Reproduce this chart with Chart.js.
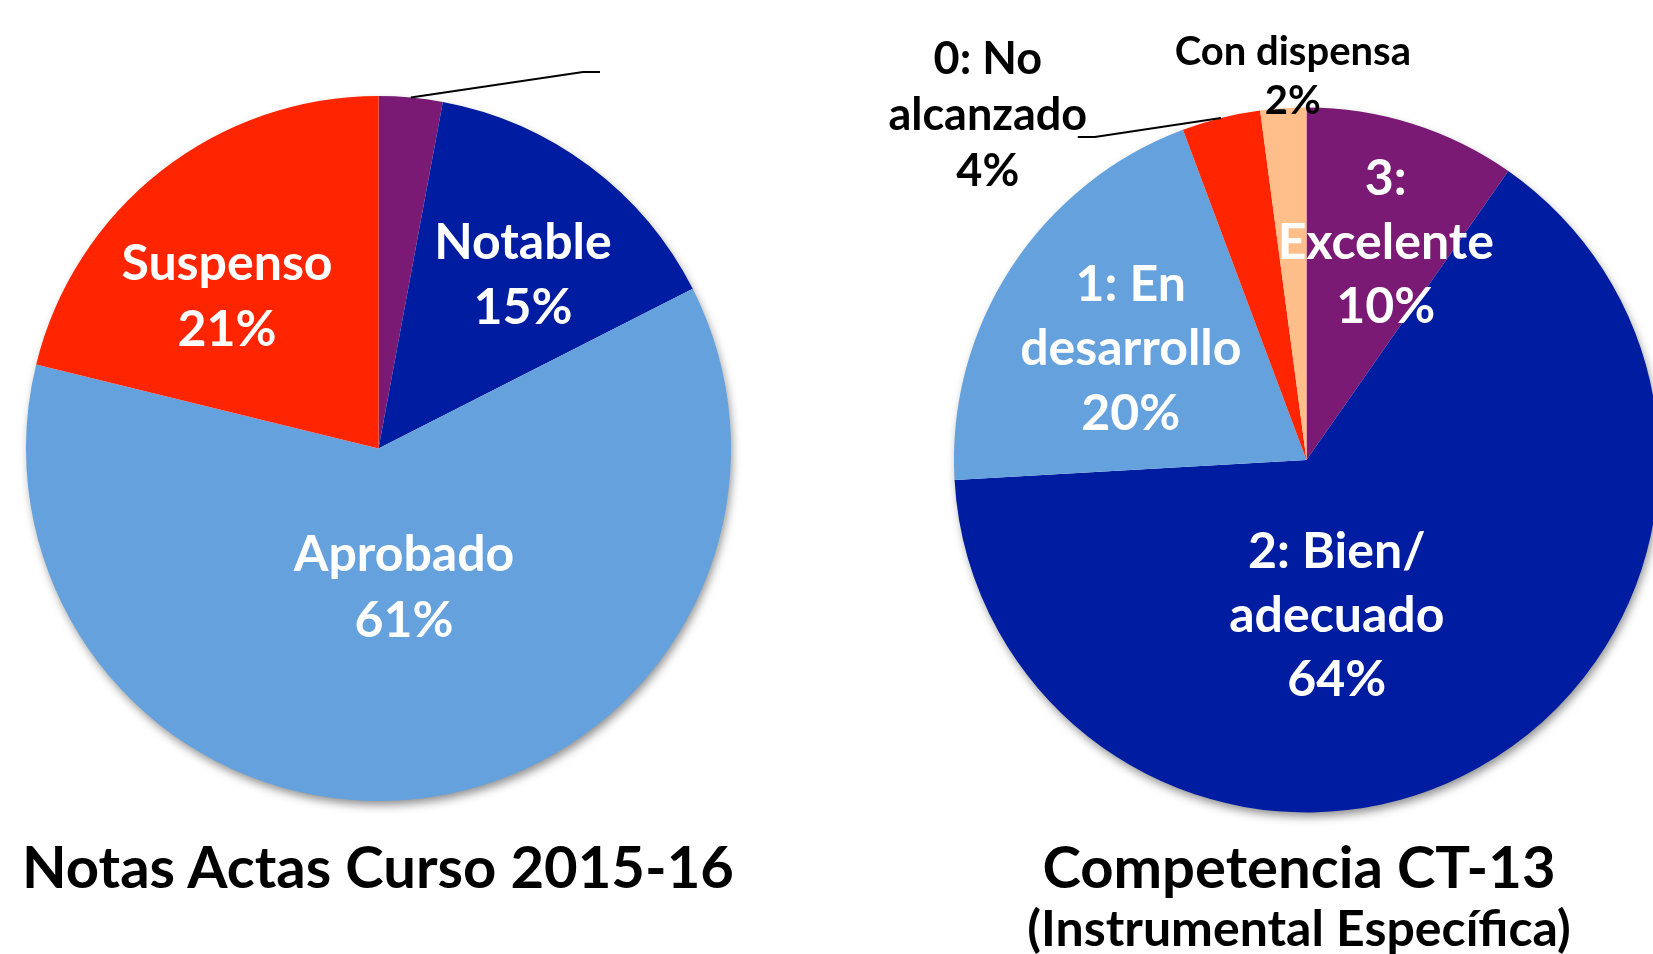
<!DOCTYPE html>
<html>
<head>
<meta charset="utf-8">
<script src="https://cdn.jsdelivr.net/npm/chart.js@4.4.1/dist/chart.umd.min.js"></script>
<style>
html, body { margin: 0; padding: 0; background: #fff; width: 1653px; height: 954px; overflow: hidden; }
.box { position: absolute; top: 0; height: 954px; }
#leftBox { left: 0; width: 826px; }
#rightBox { left: 826px; width: 900px; }
.title { position: absolute; font-family: Lato, sans-serif; font-weight: 700; color: #000;
         font-size: 58px; line-height: 58px; white-space: nowrap; transform: translateX(-50%); }
.sub { font-size: 50px; line-height: 50px; }
</style>
</head>
<body>
<div class="box" id="leftBox"><canvas id="notas"></canvas></div>
<div class="box" id="rightBox"><canvas id="competencia"></canvas></div>
<div class="title" style="left:378px;top:837px">Notas Actas Curso 2015-16</div>
<div class="title" style="left:1299px;top:837px">Competencia CT-13</div>
<div class="title sub" style="left:1299px;top:902px">(Instrumental Específica)</div>
<script>
// Notas Actas Curso 2015-16 (numero de alumnos)
const notasLabels = ['Sobresaliente', 'Notable', 'Aprobado', 'Suspenso'];
const notasValues = [4, 20, 84, 29];
const notasColors = ['#7a1a74', '#001ca0', '#65a1dc', '#ff2500'];

// Competencia CT-13 (%)
const compLabels = [['3:', 'Excelente'], ['2: Bien/', 'adecuado'], ['1: En', 'desarrollo'], ['0: No', 'alcanzado'], 'Con dispensa'];
const compValues = [9.7, 64.4, 20.2, 3.6, 2.1];
const compColors = ['#7a1a74', '#001ca0', '#65a1dc', '#ff2500', '#ffbe8a'];

// label placement, relative to the pie centre
const notasLabelPos = [
    { hidden: true, line: { elbowDx: 204.5, elbowDy: -376.5, endDx: 221.5 } },
    { dx: 144.5, dy: -175, size: 50, lh: 65, color: '#fff' },
    { dx: 25.5, dy: 137.5, size: 50, lh: 66, color: '#fff' },
    { dx: -151.5, dy: -153.5, size: 50, lh: 65.5, color: '#fff' }
];
const compLabelPos = [
    { dx: 79.3, dy: -219, size: 50, lh: 64, color: '#fff' },
    { dx: 30.3, dy: 154, size: 50, lh: 64, color: '#fff' },
    { dx: -175.7, dy: -113, size: 50, lh: 64.5, color: '#fff' },
    { dx: -318.7, dy: -346, size: 45, lh: 56, color: '#000',
      line: { elbowDx: -211.7, elbowDy: -323, endDx: -228.7 } },
    { dx: -13.7, dy: -384.5, size: 40, lh: 49, color: '#000' }
];

const pieShadow = {
    id: 'pieShadow',
    beforeDatasetsDraw(chart) {
        const arc = chart.getDatasetMeta(0).data[0];
        if (!arc) return;
        const ctx = chart.ctx;
        ctx.save();
        ctx.shadowColor = 'rgba(0,0,0,0.45)';
        ctx.shadowBlur = 10;
        ctx.shadowOffsetX = 2;
        ctx.shadowOffsetY = 5;
        ctx.fillStyle = '#fff';
        ctx.beginPath();
        ctx.arc(arc.x, arc.y, arc.outerRadius - 1, 0, Math.PI * 2);
        ctx.fill();
        ctx.restore();
    }
};

const pieLabels = {
    id: 'pieLabels',
    afterDatasetsDraw(chart, args, opts) {
        const ctx = chart.ctx;
        const data = chart.data.datasets[0].data;
        const total = data.reduce((a, b) => a + b, 0);
        chart.getDatasetMeta(0).data.forEach((arc, i) => {
            const spec = opts.items[i];
            if (!spec) return;
            ctx.save();
            if (spec.line) {
                const mid = (arc.startAngle + arc.endAngle) / 2;
                ctx.strokeStyle = '#000';
                ctx.lineWidth = 2;
                ctx.beginPath();
                ctx.moveTo(arc.x + Math.cos(mid) * arc.outerRadius, arc.y + Math.sin(mid) * arc.outerRadius);
                ctx.lineTo(arc.x + spec.line.elbowDx, arc.y + spec.line.elbowDy);
                ctx.lineTo(arc.x + spec.line.endDx, arc.y + spec.line.elbowDy);
                ctx.stroke();
            }
            if (!spec.hidden) {
                const lines = [].concat(chart.data.labels[i], Math.round(data[i] / total * 100) + '%');
                ctx.font = `bold ${spec.size}px Lato`;
                ctx.fillStyle = spec.color;
                ctx.textAlign = 'center';
                ctx.textBaseline = 'alphabetic';
                const cx = arc.x + spec.dx;
                const cy = arc.y + spec.dy;
                lines.forEach((t, k) => {
                    const y = cy + (k - (lines.length - 1) / 2) * spec.lh + spec.size * 0.36;
                    ctx.fillText(t, cx, y);
                });
            }
            ctx.restore();
        });
    }
};

function makePie(id, labels, values, colors, padding, labelPos) {
    return new Chart(document.getElementById(id), {
        type: 'pie',
        data: {
            labels: labels,
            datasets: [{
                data: values,
                backgroundColor: colors,
                borderWidth: 0,
                hoverOffset: 0,
                offset: 0
            }]
        },
        options: {
            responsive: true,
            maintainAspectRatio: false,
            animation: false,
            events: [],
            layout: { padding: padding },
            plugins: {
                legend: { display: false },
                tooltip: { enabled: false },
                pieLabels: { items: labelPos }
            }
        },
        plugins: [pieShadow, pieLabels]
    });
}

makePie('notas', notasLabels, notasValues, notasColors,
    { left: 26, top: 96, right: 95, bottom: 153 }, notasLabelPos);
makePie('competencia', compLabels, compValues, compColors,
    { left: 128, top: 107.5, right: 67, bottom: 141.5 }, compLabelPos);
</script>
</body>
</html>
